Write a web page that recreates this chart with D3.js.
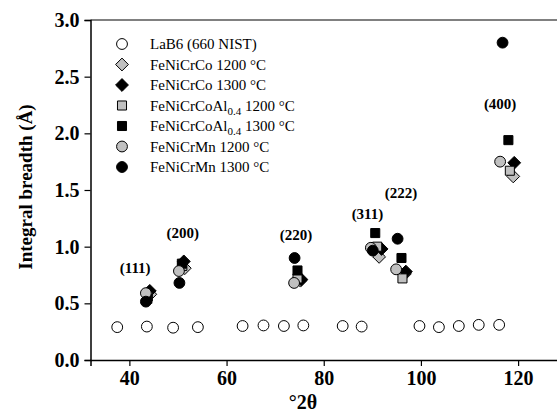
<!DOCTYPE html>
<meta charset="utf-8">
<script src="https://d3js.org/d3.v7.min.js"></script>
<style>
  body { margin: 0; background: #fff; }
  text { font-family: "Liberation Serif", "Times New Roman", serif; }
</style>
<svg id="chart" width="557" height="418"></svg>
<script>
  // peak groups (x values in degrees 2-theta, y = integral breadth)
  const lab6X = [37.5, 43.6, 49.0, 54.1, 63.3, 67.6, 71.8, 75.8, 83.9, 87.8, 99.7, 103.7, 107.8, 111.9, 116.1];
  const lab6Y = [0.29, 0.295, 0.285, 0.29, 0.30, 0.305, 0.30, 0.305, 0.30, 0.295, 0.30, 0.29, 0.30, 0.31, 0.31];

  const co1200X = [44.3, 51.4, 75.2, 91.4, 96.7, 119.0];
  const co1200Y = [0.58, 0.81, 0.70, 0.91, 0.76, 1.62];
  const co1300X = [44.2, 51.2, 75.4, 91.9, 96.9, 119.2];
  const co1300Y = [0.61, 0.87, 0.71, 0.98, 0.78, 1.74];
  const al1200X = [43.8, 50.9, 74.6, 91.0, 96.2, 118.3];
  const al1200Y = [0.56, 0.83, 0.72, 1.00, 0.72, 1.67];
  const al1300X = [43.7, 50.8, 74.6, 90.6, 96.0, 118.0];
  const al1300Y = [0.54, 0.85, 0.79, 1.12, 0.90, 1.94];
  const mn1200X = [43.4, 50.2, 73.9, 89.7, 94.9, 116.3];
  const mn1200Y = [0.59, 0.785, 0.68, 0.99, 0.80, 1.75];
  const mn1300X = [43.4, 50.3, 74.0, 90.1, 95.2, 116.8];
  const mn1300Y = [0.515, 0.68, 0.90, 0.965, 1.07, 2.80];

  const peakLabels = ["(111)", "(200)", "(220)", "(311)", "(222)", "(400)"];
  const peakLabelX = [41.2, 51.0, 74.3, 89.0, 95.9, 116.3];
  const peakLabelY = [0.81, 1.12, 1.10, 1.29, 1.47, 2.26];

  const xTicks = [40, 60, 80, 100, 120];
  const yTicks = [0.0, 0.5, 1.0, 1.5, 2.0, 2.5, 3.0];

  const series = [
    { name: "LaB6 (660 NIST)", xs: lab6X, ys: lab6Y, shape: "circle", fill: "#fff" },
    { name: "FeNiCrCo 1200 °C", xs: co1200X, ys: co1200Y, shape: "diamond", fill: "#c0c0c0" },
    { name: "FeNiCrCo 1300 °C", xs: co1300X, ys: co1300Y, shape: "diamond", fill: "#000" },
    { name: "FeNiCrCoAl", sub: "0.4", tail: " 1200 °C", xs: al1200X, ys: al1200Y, shape: "square", fill: "#c0c0c0" },
    { name: "FeNiCrCoAl", sub: "0.4", tail: " 1300 °C", xs: al1300X, ys: al1300Y, shape: "square", fill: "#000" },
    { name: "FeNiCrMn 1200 °C", xs: mn1200X, ys: mn1200Y, shape: "circle", fill: "#c0c0c0" },
    { name: "FeNiCrMn 1300 °C", xs: mn1300X, ys: mn1300Y, shape: "circle", fill: "#000" }
  ];

  const svg = d3.select("#chart");
  const plotLeft = 90.5, plotTop = 20, plotBottom = 360;

  const x = d3.scaleLinear().domain([32, 130]).range([plotLeft, 566.7]);
  const y = d3.scaleLinear().domain([0, 3]).range([plotBottom, plotTop]);

  const symbols = {
    circle: d3.symbol().type(d3.symbolCircle).size(92),
    diamond: d3.symbol().type(d3.symbolDiamond2).size(105),
    square: d3.symbol().type(d3.symbolSquare).size(82)
  };

  // top frame line (grey)
  svg.append("line")
    .attr("x1", plotLeft).attr("x2", 557)
    .attr("y1", plotTop).attr("y2", plotTop)
    .attr("stroke", "#808080").attr("stroke-width", 2);

  // axes
  const xAxis = svg.append("g")
    .attr("transform", `translate(0,${plotBottom})`)
    .call(d3.axisBottom(x).tickValues(xTicks).tickSize(6).tickPadding(5).tickFormat(d3.format("d")));
  const yAxis = svg.append("g")
    .attr("transform", `translate(${plotLeft},0)`)
    .call(d3.axisLeft(y).tickValues(yTicks).tickSize(6).tickPadding(5).tickFormat(d3.format(".1f")));

  [xAxis, yAxis].forEach(g => {
    g.select(".domain").attr("stroke", "#000").attr("stroke-width", 1.5);
    g.selectAll(".tick line").attr("stroke", "#000").attr("stroke-width", 1.2);
    g.selectAll(".tick text")
      .attr("fill", "#000")
      .style("font-family", '"Liberation Serif", serif')
      .style("font-size", "20px")
      .style("font-weight", "bold");
  });

  // axis titles
  svg.append("text")
    .attr("transform", `translate(32,187) rotate(-90)`)
    .attr("text-anchor", "middle")
    .style("font-size", "19px").style("font-weight", "bold")
    .text("Integral breadth (Å)");

  svg.append("text")
    .attr("x", 303).attr("y", 409)
    .attr("text-anchor", "middle")
    .style("font-size", "20px").style("font-weight", "bold")
    .text("°2θ");

  // data points
  series.forEach(s => {
    svg.append("g")
      .selectAll("path")
      .data(s.xs.map((v, i) => [v, s.ys[i]]))
      .enter()
      .append("path")
      .attr("d", symbols[s.shape])
      .attr("transform", d => `translate(${x(d[0])},${y(d[1])})`)
      .attr("fill", s.fill)
      .attr("stroke", "#000")
      .attr("stroke-width", 1);
  });

  // peak labels
  svg.append("g")
    .selectAll("text")
    .data(peakLabels)
    .enter()
    .append("text")
    .attr("x", (d, i) => x(peakLabelX[i]))
    .attr("y", (d, i) => y(peakLabelY[i]) + 5)
    .attr("text-anchor", "middle")
    .style("font-size", "15px").style("font-weight", "bold")
    .text(d => d);

  // legend
  const legend = svg.append("g").attr("transform", "translate(122,44)");
  series.forEach((s, i) => {
    const row = legend.append("g").attr("transform", `translate(0,${i * 20.5})`);
    row.append("path")
      .attr("d", symbols[s.shape])
      .attr("fill", s.fill)
      .attr("stroke", "#000")
      .attr("stroke-width", 1);
    const t = row.append("text")
      .attr("x", 28).attr("y", 5)
      .style("font-size", "15px");
    if (s.sub) {
      t.append("tspan").text(s.name);
      t.append("tspan").attr("dy", 4).style("font-size", "11px").text(s.sub);
      t.append("tspan").attr("dy", -4).text(s.tail);
    } else {
      t.text(s.name);
    }
  });
</script>
